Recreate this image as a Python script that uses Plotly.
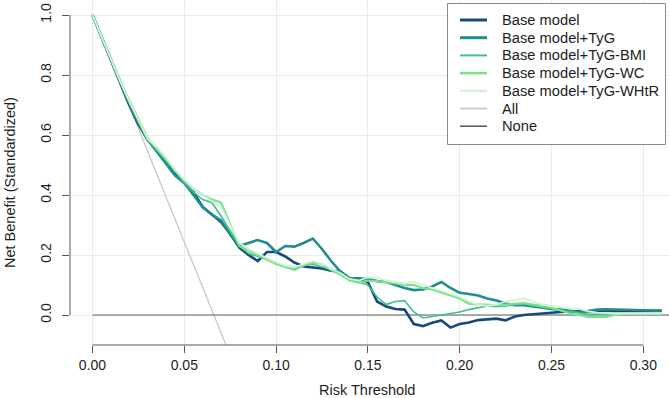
import plotly.graph_objects as go

# ---------------- data ----------------
thresholds = [round(0.005 * i, 3) for i in range(63)]

base_model = [1.0, .925, .85, .77, .70, .635, .585, .55, .51, .47,
              .44, .41, .36, .335, .31, .27, .225, .20, .18, .21,
              .21, .195, .175, .162, .158, .155, .148, .145, .122, .12,
              .11, .045, .028, .02, .018, -.03, -.037, -.026, -.018, -.042,
              -.03, -.025, -.017, -.015, -.012, -.018, -.005, 0.0, .003, .006,
              .008, .01, .012, .012, .013, .013, .014, .014, .014, .014,
              .014, .014, .014]

tyg = [1.0, .925, .85, .775, .705, .64, .585, .545, .505, .465,
       .44, .40, .36, .335, .315, .27, .23, .24, .25, .24,
       .21, .23, .228, .24, .255, .22, .18, .145, .122, .122,
       .12, .113, .11, .10, .09, .083, .085, .095, .11, .09,
       .074, .07, .065, .055, .048, .038, .033, .033, .028, .025,
       .02, .018, .013, .01, .013, .018, .019, .018, .016, .015,
       .014, .014, .014]

tyg_bmi = [1.0, .925, .85, .78, .71, .645, .585, .55, .515, .48,
           .44, .41, .385, .375, .33, .28, .23, .205, .195, .185,
           .175, .16, .15, .165, .17, .16, .15, .135, .12, .11,
           .10, .06, .035, .045, .048, .01, -.01, -.005, 0.0, .003,
           .01, .018, .024, .03, .028, .03, .035, .036, .03, .025,
           .02, .015, .01, .005, .002, .003, .004, .005, .005, .005,
           .005, .005, .005]

tyg_wc = [1.0, .925, .85, .78, .715, .65, .59, .555, .52, .48,
          .45, .42, .40, .385, .375, .30, .23, .215, .20, .185,
          .17, .16, .155, .165, .175, .17, .15, .135, .115, .108,
          .115, .113, .11, .105, .10, .10, .09, .085, .075, .065,
          .055, .038, .035, .035, .032, .035, .038, .04, .035, .03,
          .025, .015, .005, 0.0, -.006, -.006, -.006, 0.0, .005, .005,
          .005, .005, .005]

tyg_whtr = [1.0, .925, .85, .78, .712, .648, .588, .56, .525, .485,
            .45, .42, .40, .38, .36, .30, .24, .22, .205, .19,
            .175, .165, .16, .17, .18, .17, .155, .14, .12, .115,
            .125, .125, .115, .11, .105, .11, .10, .09, .08, .07,
            .06, .045, .035, .03, .035, .045, .05, .056, .045, .035,
            .03, .025, .022, .02, .012, .008, .006, .005, .005, .005,
            .005, .005, .005]

all_x = [0.0, 0.0727]
all_y = [1.0, -0.1]
none_x = [0.0, 0.32]
none_y = [0.0, 0.0]

series_names = ["Base model", "Base model+TyG", "Base model+TyG-BMI",
                "Base model+TyG-WC", "Base model+TyG-WHtR", "All", "None"]

x_ticks = [0.0, 0.05, 0.10, 0.15, 0.20, 0.25, 0.30]
x_ticklabels = ["0.00", "0.05", "0.10", "0.15", "0.20", "0.25", "0.30"]
y_ticks = [0.0, 0.2, 0.4, 0.6, 0.8, 1.0]
y_ticklabels = ["0.0", "0.2", "0.4", "0.6", "0.8", "1.0"]

# ---------------- style ----------------
colors = ["#17497A", "#228C8C", "#42C090", "#7AE28C", "#D2F2D6", "#C4C4C4", "#5E5E5E"]
widths = [2.6, 2.6, 1.6, 2.2, 1.8, 1.2, 1.2]
FONT = "Liberation Sans, Arial, sans-serif"
TXT = "#1e1e1e"

W, H = 669, 398
ML, MR, MT, MB = 70, 0, 0, 53
PW, PH = W - ML - MR, H - MT - MB


def px_x(p):
    return (p - ML) / PW


def px_y(p):
    return (H - MB - p) / PH


fig = go.Figure()
fig.add_trace(go.Scatter(x=all_x, y=all_y, mode="lines", name=series_names[5],
                         line=dict(color=colors[5], width=widths[5]), showlegend=False))
fig.add_trace(go.Scatter(x=none_x, y=none_y, mode="lines", name=series_names[6],
                         line=dict(color=colors[6], width=widths[6]), showlegend=False))
for name, ys, c, w in zip(series_names[:5], [base_model, tyg, tyg_bmi, tyg_wc, tyg_whtr],
                          colors[:5], widths[:5]):
    fig.add_trace(go.Scatter(x=thresholds, y=ys, mode="lines", name=name,
                             line=dict(color=c, width=w), showlegend=False))

shapes = []
# axis lines (R style: only span the tick range)
shapes.append(dict(type="line", xref="paper", yref="y", x0=0, x1=0, y0=0, y1=1,
                   line=dict(color="#555555", width=1)))
shapes.append(dict(type="line", xref="x", yref="paper", x0=0, x1=0.30, y0=0, y1=0,
                   line=dict(color="#555555", width=1)))
# legend box
shapes.append(dict(type="rect", xref="paper", yref="paper",
                   x0=px_x(447.5), x1=px_x(665.5), y0=px_y(144.5), y1=px_y(3.5),
                   line=dict(color="#8a8a8a", width=1), fillcolor="white", layer="above"))
annotations = []
row0, step = 20.0, 17.7
for i, name in enumerate(series_names):
    yy = row0 + i * step
    shapes.append(dict(type="line", xref="paper", yref="paper",
                       x0=px_x(460), x1=px_x(487), y0=px_y(yy), y1=px_y(yy),
                       line=dict(color=colors[i], width=widths[i] + 0.4), layer="above"))
    annotations.append(dict(x=px_x(500), y=px_y(yy), xref="paper", yref="paper",
                            text=name, showarrow=False, xanchor="left", yanchor="middle",
                            font=dict(family=FONT, size=14.7, color=TXT)))

annotations.append(dict(x=px_x(367), y=px_y(390), xref="paper", yref="paper",
                        text="Risk Threshold", showarrow=False, xanchor="center",
                        yanchor="middle", font=dict(family=FONT, size=14.5, color=TXT)))
annotations.append(dict(x=px_x(10), y=px_y(183), xref="paper", yref="paper",
                        text="Net Benefit (Standardized)", showarrow=False, textangle=-90,
                        xanchor="center", yanchor="middle",
                        font=dict(family=FONT, size=14.5, color=TXT)))

fig.update_layout(
    width=W, height=H,
    margin=dict(l=ML, r=MR, t=MT, b=MB, pad=0),
    paper_bgcolor="white", plot_bgcolor="white",
    shapes=shapes, annotations=annotations,
    showlegend=False,
    xaxis=dict(range=[-0.01225, 0.314], tickvals=x_ticks, ticktext=x_ticklabels,
               ticks="outside", ticklen=7, tickcolor="#555555", tickwidth=1,
               showline=False, zeroline=False, showgrid=True, gridcolor="#ebebeb",
               gridwidth=1, tickfont=dict(family=FONT, size=14, color=TXT),
               fixedrange=True),
    yaxis=dict(range=[-0.1, 1.05], tickvals=y_ticks, ticktext=y_ticklabels,
               ticks="outside", ticklen=7, tickcolor="#555555", tickwidth=1,
               tickangle=-90, ticklabelstandoff=5, showline=False, zeroline=False,
               showgrid=True, gridcolor="#ebebeb", gridwidth=1,
               tickfont=dict(family=FONT, size=14, color=TXT), fixedrange=True),
)

fig.write_html("out.html", config={"displayModeBar": False},
               post_script="document.body.style.margin='0';document.body.style.overflow='hidden';")
